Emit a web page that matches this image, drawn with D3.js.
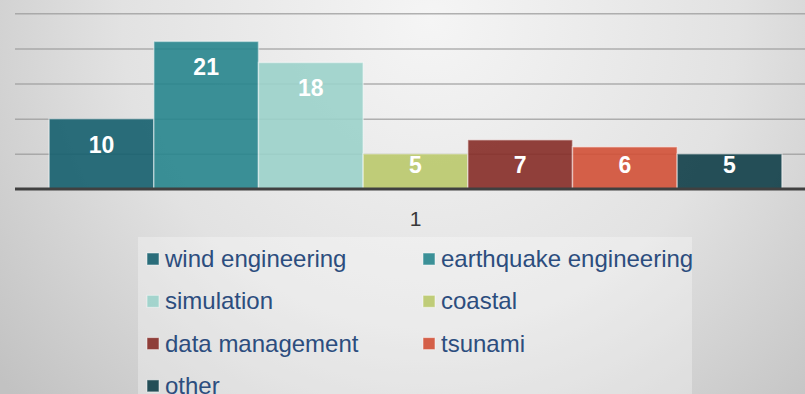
<!DOCTYPE html>
<html>
<head>
<meta charset="utf-8">
<script src="https://cdn.jsdelivr.net/npm/d3@7"></script>
<style>
  html, body { margin: 0; padding: 0; background: #dcdcdc; }
  svg { display: block; }
</style>
</head>
<body>
<svg id="chart" width="805" height="394"></svg>
<script>
// Data
const categories = ["1"];
const seriesNames = ["wind engineering", "earthquake engineering", "simulation", "coastal", "data management", "tsunami", "other"];
const seriesValues = [10, 21, 18, 5, 7, 6, 5];
const seriesColors = ["#155f6e", "#27858d", "#9bd2ca", "#bac96c", "#862c27", "#d25036", "#103e48"];
const yTicks = [5, 10, 15, 20, 25];

const W = 805, H = 394;
const svg = d3.select("#chart");

// Background gradient
const defs = svg.append("defs");
const bg = defs.append("radialGradient")
  .attr("id", "bg").attr("gradientUnits", "userSpaceOnUse")
  .attr("cx", 430).attr("cy", 20).attr("r", 560);
bg.append("stop").attr("offset", "0%").attr("stop-color", "#f5f5f5");
bg.append("stop").attr("offset", "55%").attr("stop-color", "#e2e2e2");
bg.append("stop").attr("offset", "100%").attr("stop-color", "#c2c2c2");
svg.append("rect").attr("width", W).attr("height", H).attr("fill", "url(#bg)");

// Scales
const plotLeft = 15, plotRight = 816, yBase = 189, yTop = 13.3;
const y = d3.scaleLinear().domain([0, 25]).range([yBase, yTop]);
const x0 = d3.scaleBand().domain(categories).range([plotLeft, plotRight]).paddingInner(0).paddingOuter(0.0466);
const x1 = d3.scaleBand().domain(seriesNames).range([0, x0.bandwidth()]);
const color = d3.scaleOrdinal().domain(seriesNames).range(seriesColors);

// Gridlines
const grid = svg.append("g")
  .attr("transform", `translate(${plotLeft},0)`)
  .call(d3.axisLeft(y).tickValues(yTicks).tickSize(-(W - plotLeft)).tickFormat(""));
grid.select(".domain").remove();
grid.selectAll(".tick line").attr("stroke", "#9a9a9a").attr("stroke-opacity", 0.75).attr("stroke-width", 1.5);

// Bars
const rows = seriesNames.map((name, i) => ({ name, value: seriesValues[i] }));
const group = svg.append("g").attr("transform", `translate(${x0(categories[0])},0)`);
group.selectAll("rect.bar")
  .data(rows)
  .join("rect")
  .attr("class", "bar")
  .attr("x", d => x1(d.name))
  .attr("y", d => y(d.value))
  .attr("width", x1.bandwidth())
  .attr("height", d => y(0) - y(d.value))
  .attr("fill", d => color(d.name))
  .attr("fill-opacity", 0.9)
  .attr("stroke", "#ffffff")
  .attr("stroke-opacity", 0.45)
  .attr("stroke-width", 1.5);

// Value labels
group.selectAll("text.val")
  .data(rows)
  .join("text")
  .attr("class", "val")
  .attr("x", d => x1(d.name) + x1.bandwidth() / 2)
  .attr("y", d => Math.min(y(d.value) + 34, y(0) - 16.3))
  .attr("text-anchor", "middle")
  .attr("font-family", "Liberation Sans, Arial, sans-serif")
  .attr("font-weight", "bold")
  .attr("font-size", 23)
  .attr("fill", "#ffffff")
  .text(d => d.value);

// Baseline axis
const xAxis = svg.append("g")
  .attr("transform", `translate(0,${yBase})`)
  .call(d3.axisBottom(x0).tickSize(0).tickPadding(0));
xAxis.select(".domain").remove();
xAxis.append("line")
  .attr("x1", plotLeft).attr("x2", W)
  .attr("stroke", "#404040").attr("stroke-width", 3);
xAxis.selectAll(".tick text")
  .attr("dy", 0)
  .attr("y", 36.5)
  .attr("font-family", "Liberation Sans, Arial, sans-serif")
  .attr("font-size", 21)
  .attr("fill", "#383838");

// Legend
svg.append("rect")
  .attr("x", 138).attr("y", 237).attr("width", 554).attr("height", H - 237)
  .attr("fill", "#ffffff").attr("fill-opacity", 0.3);
const legend = svg.append("g");
const colX = [147, 423], rowY0 = 259, rowStep = 42.3;
const items = legend.selectAll("g.item")
  .data(seriesNames)
  .join("g")
  .attr("class", "item")
  .attr("transform", (d, i) => `translate(${colX[i % 2]},${rowY0 + Math.floor(i / 2) * rowStep})`);
items.append("rect")
  .attr("x", 0).attr("y", -6).attr("width", 12).attr("height", 12)
  .attr("fill", d => color(d))
  .attr("fill-opacity", 0.9)
  .attr("stroke", "#ffffff").attr("stroke-opacity", 0.5).attr("stroke-width", 1);
items.append("text")
  .attr("x", 18).attr("y", 8)
  .attr("font-family", "Liberation Sans, Arial, sans-serif")
  .attr("font-size", 24)
  .attr("fill", "#2c4d7e")
  .text(d => d);
</script>
</body>
</html>
